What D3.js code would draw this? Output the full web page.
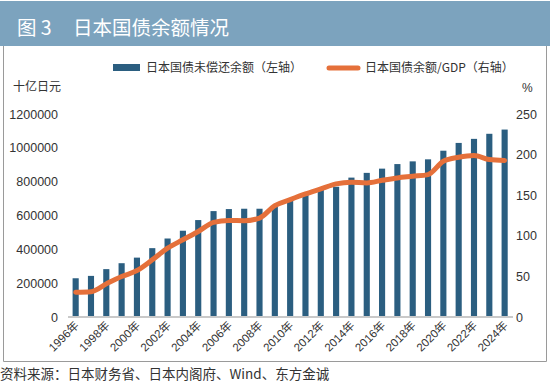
<!DOCTYPE html>
<html>
<head>
<meta charset="utf-8">
<script src="https://cdn.jsdelivr.net/npm/d3@7"></script>
<style>
  body { margin: 0; background: #fff; }
  svg { display: block; font-family: "Liberation Sans", Arial, "Noto Sans CJK SC", sans-serif; }
  .cjk { font-family: "Noto Sans CJK SC", sans-serif; }
</style>
</head>
<body>
<svg id="chart" width="550" height="384"></svg>
<script>
// years on the x axis
var years = [];
for (var yr = 1996; yr <= 2024; yr++) years.push(yr + "年");

// 日本国债未偿还余额, 十亿日元 (left axis)
var debt = [229000, 243000, 283000, 318000, 351000, 407000, 464000, 510000, 573000, 626000,
            638000, 640000, 640000, 655000, 699000, 733000, 753000, 770000, 824000, 852000,
            877000, 904000, 920000, 932000, 983000, 1029000, 1053000, 1083000, 1108000];

// 日本国债余额/GDP, % (right axis)
var ratio = [30.5, 31.2, 40.8, 49.8, 57.2, 70.4, 84.8, 95.1, 105.3, 116.5,
             118.9, 118.6, 121.9, 137.1, 144.5, 151.5, 157.7, 163.9, 165.9, 165.1,
             168.3, 171.3, 173.3, 175.4, 191.8, 196.7, 198.8, 193.9, 192.7];

var leftTicks = [0, 200000, 400000, 600000, 800000, 1000000, 1200000];
var rightTicks = [0, 50, 100, 150, 200, 250];
var xLabelYears = years.filter(function(d, i) { return i % 2 == 0; });

var barColor = "#2b5e80",
    lineColor = "#e5703a";

var svg = d3.select("#chart");

// title bar
svg.append("rect")
    .attr("x", 0).attr("y", 1)
    .attr("width", 550).attr("height", 45)
    .attr("fill", "#7ca3be");
svg.append("text")
    .attr("class", "cjk")
    .attr("x", 17).attr("y", 35)
    .attr("fill", "#fff")
    .style("font-size", "19.5px")
    .text("图 3");
svg.append("text")
    .attr("class", "cjk")
    .attr("x", 73).attr("y", 35)
    .attr("fill", "#fff")
    .style("font-size", "19.5px")
    .text("日本国债余额情况");

// frame
svg.append("path")
    .attr("d", "M3.5,46 V361.5 H546.5 V46")
    .attr("fill", "none")
    .attr("stroke", "#9a9a9a")
    .attr("stroke-width", 1);

var x = d3.scaleBand()
    .domain(years)
    .range([68, 512.3])
    .paddingInner(0.6)
    .paddingOuter(0.3);

var yL = d3.scaleLinear()
    .domain([0, 1200000])
    .range([317, 114]);

var yR = d3.scaleLinear()
    .domain([0, 250])
    .range([317, 114]);

var leftAxis = d3.axisLeft(yL).tickValues(leftTicks).tickFormat(d3.format("d")).tickSize(0).tickPadding(4);
var rightAxis = d3.axisRight(yR).tickValues(rightTicks).tickFormat(d3.format("d")).tickSize(0).tickPadding(4);

var gl = svg.append("g")
    .attr("transform", "translate(62,0)")
    .call(leftAxis);
gl.select(".domain").remove();

var gr = svg.append("g")
    .attr("transform", "translate(512,0)")
    .call(rightAxis);
gr.select(".domain").remove();

svg.selectAll(".tick text")
    .attr("fill", "#333")
    .style("font-size", "12.5px")
    .style("font-family", "'Liberation Sans', Arial, sans-serif");

// unit labels
svg.append("text")
    .attr("class", "cjk")
    .attr("x", 13).attr("y", 91)
    .attr("fill", "#333")
    .style("font-size", "12px")
    .text("十亿日元");
svg.append("text")
    .attr("x", 522).attr("y", 92)
    .attr("fill", "#333")
    .style("font-size", "12px")
    .text("%");

// bars
svg.selectAll(".bar")
    .data(debt)
    .enter().append("rect")
    .attr("class", "bar")
    .attr("x", function(d, i) { return x(years[i]); })
    .attr("width", x.bandwidth())
    .attr("y", function(d) { return yL(d); })
    .attr("height", function(d) { return yL(0) - yL(d); })
    .attr("fill", barColor);

// baseline
svg.append("line")
    .attr("x1", 68).attr("x2", 513)
    .attr("y1", 317).attr("y2", 317)
    .attr("stroke", "#c9c9c9")
    .attr("stroke-width", 2);

// ratio line
var line = d3.line()
    .x(function(d, i) { return x(years[i]) + x.bandwidth() / 2; })
    .y(function(d) { return yR(d); })
    .curve(d3.curveMonotoneX);

svg.append("path")
    .datum(ratio)
    .attr("d", line)
    .attr("fill", "none")
    .attr("stroke", lineColor)
    .attr("stroke-width", 5)
    .attr("stroke-linecap", "round")
    .attr("stroke-linejoin", "round");

// x labels
svg.selectAll(".xlab")
    .data(xLabelYears)
    .enter().append("text")
    .attr("class", "xlab")
    .attr("transform", function(d) {
        return "translate(" + (x(d) + x.bandwidth() / 2 + 4) + ",326) rotate(-45)";
    })
    .attr("text-anchor", "end")
    .attr("fill", "#333")
    .style("font-size", "11.5px")
    .text(function(d) { return d; });

// legend
svg.append("rect")
    .attr("x", 113).attr("y", 64)
    .attr("width", 27).attr("height", 7)
    .attr("fill", barColor);
svg.append("text")
    .attr("class", "cjk")
    .attr("x", 146).attr("y", 72)
    .attr("fill", "#333")
    .style("font-size", "12px")
    .text("日本国债未偿还余额（左轴）");
svg.append("line")
    .attr("x1", 329).attr("x2", 358)
    .attr("y1", 68).attr("y2", 68)
    .attr("stroke", lineColor)
    .attr("stroke-width", 5)
    .attr("stroke-linecap", "round");
svg.append("text")
    .attr("class", "cjk")
    .attr("x", 365).attr("y", 72)
    .attr("fill", "#333")
    .style("font-size", "12px")
    .text("日本国债余额/GDP（右轴）");

// source
svg.append("text")
    .attr("class", "cjk")
    .attr("x", 0).attr("y", 379)
    .attr("fill", "#333")
    .style("font-size", "13.5px")
    .text("资料来源：日本财务省、日本内阁府、Wind、东方金诚");
</script>
</body>
</html>
